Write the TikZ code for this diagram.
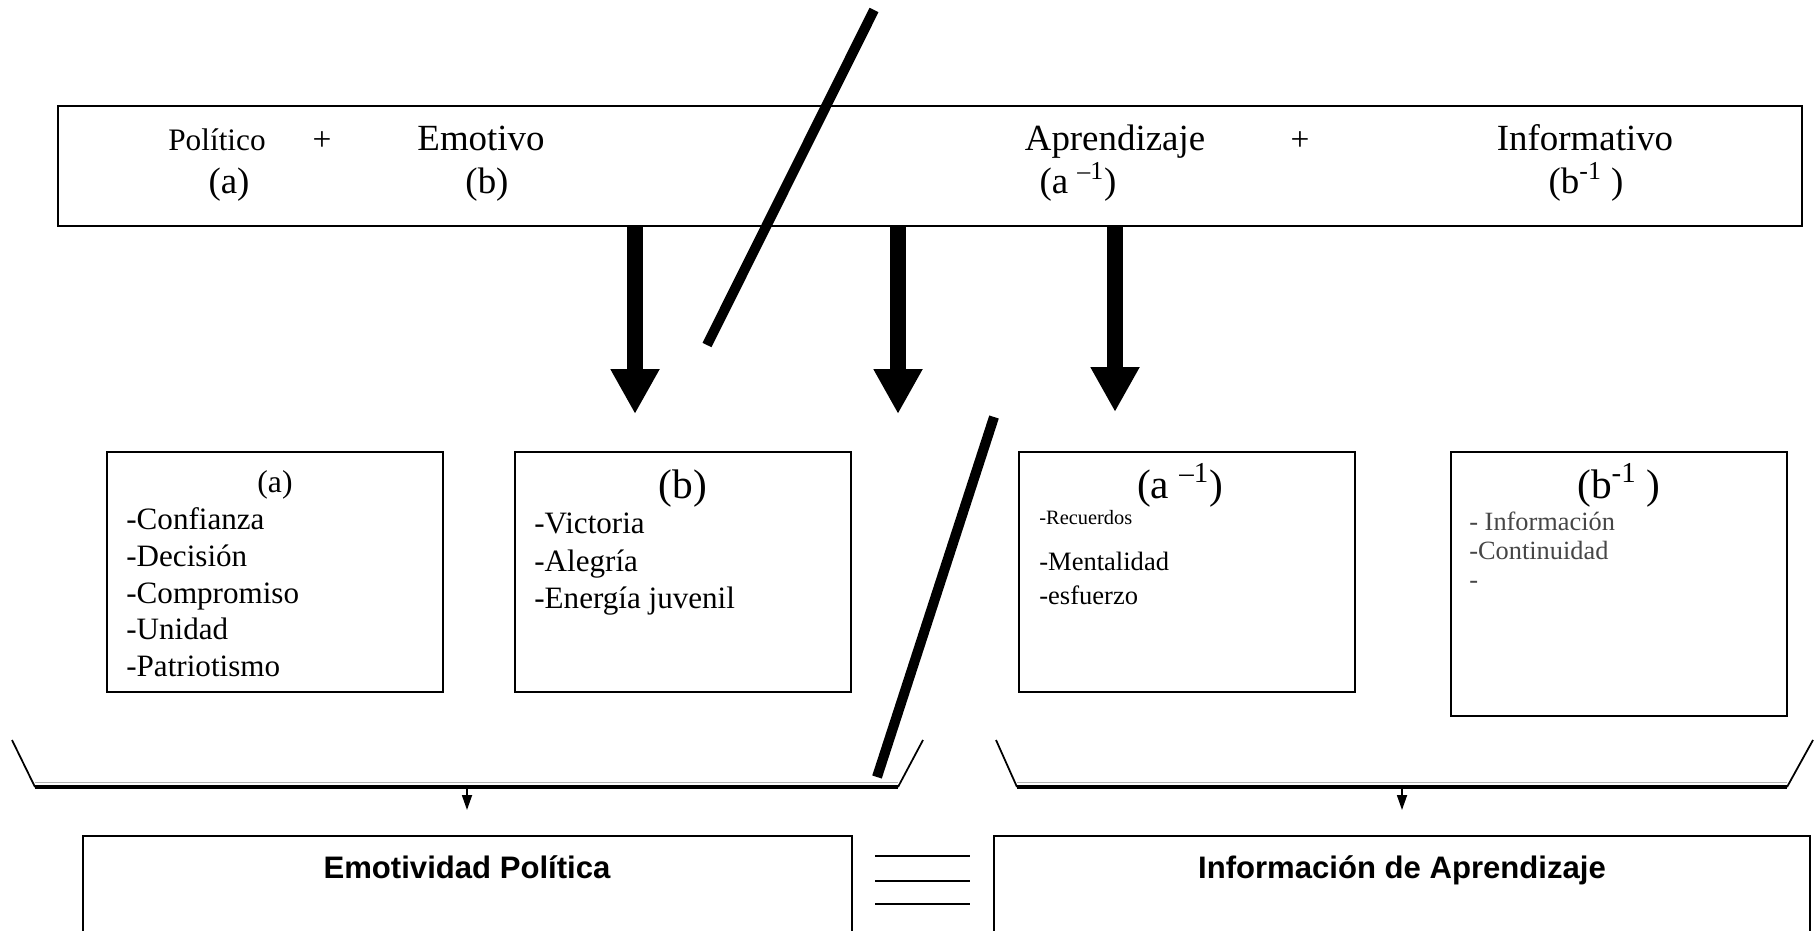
\documentclass[tikz,border=0pt]{standalone}
\usepackage{fontspec}
\setmainfont{Liberation Serif}
\setsansfont{Liberation Sans}
\usetikzlibrary{arrows.meta,positioning}
\definecolor{SoftGray}{RGB}{70,70,70}
\tikzset{
  framebox/.style={draw=black,line width=1.1pt,inner sep=0pt},
  toptext/.style={anchor=base,inner sep=0pt},
  itemlist/.style={align=left,inner sep=0pt,anchor=north west},
  bigarrow/.style={-{Triangle[length=0.9cm,width=0.92cm]},line width=0.32cm},
  slashline/.style={line width=0.2cm},
  smallarrow/.style={-{Triangle[length=0.3cm,width=0.2cm]},line width=1pt},
  bracketside/.style={line width=1pt},
  bracketbase/.style={line width=2.6pt},
  eqline/.style={line width=1.4pt},
  resulttitle/.style={anchor=base,inner sep=0pt,
    font=\sffamily\bfseries\fontsize{17.7}{21}\selectfont},
}

\begin{document}
\begin{tikzpicture}[x=0.02cm,y=-0.02cm]
  \clip (0,0) rectangle (1817,930);
  % top box
  \node[framebox,minimum width=34.88cm,minimum height=2.4cm] (topbox) at (930,166) {};
  \node[toptext,font=\fontsize{17.8}{21}\selectfont] (polit) at (217,150) {Político};
  \node[toptext,font=\fontsize{19}{21}\selectfont] (plusA) at (322,150) {+};
  \node[toptext,font=\fontsize{21}{26}\selectfont] (emot) at (481,150) {Emotivo};
  \node[toptext,font=\fontsize{21}{26}\selectfont] (lblA) at (229,193) {(a)};
  \node[toptext,font=\fontsize{21}{26}\selectfont] (lblB) at (487,193) {(b)};
  \node[toptext,font=\fontsize{21}{26}\selectfont] (aprend) at (1115,150) {Aprendizaje};
  \node[toptext,font=\fontsize{19}{21}\selectfont] (plusB) at (1300,150) {+};
  \node[toptext,font=\fontsize{21}{26}\selectfont] (inform) at (1585,150) {Informativo};
  \node[toptext,font=\fontsize{21}{26}\selectfont] (lblAi) at (1078,193) {(a \textsuperscript{–1})};
  \node[toptext,font=\fontsize{21}{26}\selectfont] (lblBi) at (1586,193) {(b\textsuperscript{-1} )};

  % arrows down
  \coordinate (tipA) at (635,414);
  \coordinate (tipB) at (898,414);
  \coordinate (tipC) at (1115,412);
  \draw[bigarrow] (topbox.south -| tipA) -- (tipA);
  \draw[bigarrow] (topbox.south -| tipB) -- (tipB);
  \draw[bigarrow] (topbox.south -| tipC) -- (tipC);

  % middle boxes
  \node[framebox,minimum width=6.72cm,minimum height=4.8cm] (boxA) at (275,572) {};
  \node[framebox,minimum width=6.72cm,minimum height=4.8cm] (boxB) at (683,572) {};
  \node[framebox,minimum width=6.72cm,minimum height=4.8cm] (boxAi) at (1187,572) {};
  \node[framebox,minimum width=6.72cm,minimum height=5.28cm] (boxBi) at (1619,584) {};

  \node[toptext,font=\fontsize{18}{21}\selectfont] (headA) at (275,492) {(a)};
  \node[itemlist,font=\fontsize{17.7}{21}\selectfont] (listA) at (126,507)
    {-Confianza\\-Decisión\\-Compromiso\\-Unidad\\-Patriotismo};
  \node[toptext,font=\fontsize{23.5}{28}\selectfont] (headB) at (683,498) {(b)};
  \node[itemlist,font=\fontsize{17.7}{21.3}\selectfont] (listB) at (534,513)
    {-Victoria\\-Alegría\\-Energía juvenil};
  \node[toptext,font=\fontsize{23.5}{28}\selectfont] (headAi) at (1180,498) {(a \textsuperscript{–1})};
  \node[itemlist,font=\fontsize{11.6}{14}\selectfont] (recuer) at (1039,510) {-Recuerdos};
  \node[itemlist,font=\fontsize{15.1}{19.3}\selectfont] (listAi) at (1039,552)
    {-Mentalidad\\-esfuerzo};
  \node[toptext,font=\fontsize{23.5}{28}\selectfont] (headBi) at (1619,498) {(b\textsuperscript{-1} )};
  \node[itemlist,text=SoftGray,font=\fontsize{15}{16.5}\selectfont] (listBi) at (1469,512)
    {- Información\\-Continuidad\\-};

  % slashes
  \draw[slashline] (874,10) -- (707,345);
  \draw[slashline] (994,417) -- (877,777);

  % brackets
  \coordinate (brL1) at (12,740);
  \coordinate (brL2) at (35,787);
  \coordinate (brL3) at (898,787);
  \coordinate (brL4) at (923,740);
  \coordinate (brR1) at (996,740);
  \coordinate (brR2) at (1017,787);
  \coordinate (brR3) at (1787,787);
  \coordinate (brR4) at (1813,740);
  \draw[bracketside] (brL1) -- (brL2) (brL3) -- (brL4);
  \draw[bracketside] (brR1) -- (brR2) (brR3) -- (brR4);
  \draw[gray!60,line width=0.8pt] ([yshift=2.6pt]brL2) -- ([yshift=2.6pt]brL3);
  \draw[gray!60,line width=0.8pt] ([yshift=2.6pt]brR2) -- ([yshift=2.6pt]brR3);
  \draw[bracketbase] (brL2) -- (brL3);
  \draw[bracketbase] (brR2) -- (brR3);

  % bottom boxes
  \node[framebox,minimum width=15.38cm,minimum height=4cm] (resultL) at (467.5,936) {};
  \node[framebox,minimum width=16.32cm,minimum height=4cm] (resultR) at (1402,936) {};
  \node[resulttitle] (titleL) at (467,878) {Emotividad Política};
  \node[resulttitle] (titleR) at (1402,878) {Información de Aprendizaje};

  \coordinate (midL) at (467,787);
  \coordinate (midR) at (1402,787);
  \draw[smallarrow] (midL) -- (midL |- 0,810);
  \draw[smallarrow] (midR) -- (midR |- 0,810);

  % equal sign
  \draw[eqline] (875,856) -- (970,856);
  \draw[eqline] (875,881) -- (970,881);
  \draw[eqline] (875,904) -- (970,904);
\end{tikzpicture}
\end{document}
